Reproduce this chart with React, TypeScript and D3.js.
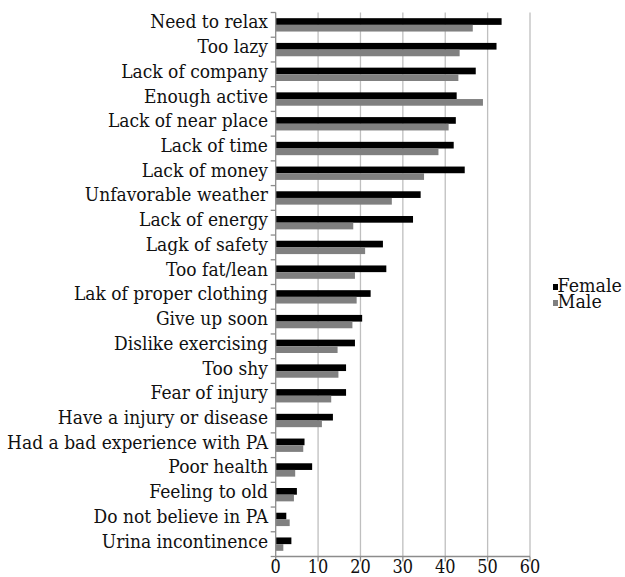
import React, { useEffect, useRef } from 'react';
import * as d3 from 'd3';

const categories = [
  'Need to relax',
  'Too lazy',
  'Lack of company',
  'Enough active',
  'Lack of near place',
  'Lack of time',
  'Lack of money',
  'Unfavorable weather',
  'Lack of energy',
  'Lagk of safety',
  'Too fat/lean',
  'Lak of proper clothing',
  'Give up soon',
  'Dislike exercising',
  'Too shy',
  'Fear of injury',
  'Have a injury or disease',
  'Had a bad experience with PA',
  'Poor health',
  'Feeling to old',
  'Do not believe in PA',
  'Urina incontinence',
];

const female = [53.3, 52.1, 47.2, 42.7, 42.5, 42.0, 44.6, 34.2, 32.4, 25.3, 26.1, 22.4, 20.4, 18.7, 16.6, 16.6, 13.5, 6.8, 8.6, 5.0, 2.5, 3.7];
const male = [46.5, 43.4, 43.1, 48.9, 40.8, 38.4, 35.0, 27.4, 18.3, 21.1, 18.7, 19.1, 18.1, 14.6, 14.8, 13.1, 10.9, 6.5, 4.6, 4.3, 3.3, 1.8];

const seriesNames = ['Female', 'Male'];
const seriesColors = ['#000000', '#808080'];
const xTicks = [0, 10, 20, 30, 40, 50, 60];

const App: React.FC = () => {
  const svgRef = useRef<SVGSVGElement>(null);

  useEffect(() => {
    if (!svgRef.current) return;
    const width = 625;
    const height = 577;
    const top = 12.5;
    const bottom = 556.5;
    const left = 275.7;
    const right = 530;
    // Times-like look: DejaVu Serif squeezed a little horizontally
    const font = 'DejaVu Serif';
    const squeeze = 0.9;

    const svg = d3.select(svgRef.current);
    svg.selectAll('*').remove();
    svg.attr('width', width).attr('height', height);

    const x = d3.scaleLinear().domain([0, 60]).range([left, right]);
    const y = d3.scaleBand<string>()
      .domain(categories)
      .range([top, bottom])
      .paddingInner(0.46)
      .paddingOuter(0.23);
    const sub = d3.scaleBand<string>()
      .domain(seriesNames)
      .range([0, y.bandwidth()]);
    const step = y.step();

    // gridlines
    svg.append('g')
      .selectAll('line')
      .data(xTicks.slice(1))
      .join('line')
      .attr('x1', (d) => x(d))
      .attr('x2', (d) => x(d))
      .attr('y1', top)
      .attr('y2', bottom)
      .attr('stroke', '#bfbfbf')
      .attr('stroke-width', 1.3);

    // bars
    const rows = categories.map((c, i) => ({ c, vals: [female[i], male[i]] }));
    const g = svg.append('g')
      .selectAll('g')
      .data(rows)
      .join('g')
      .attr('transform', (d) => `translate(0,${y(d.c)})`);
    g.selectAll('rect')
      .data((d) => d.vals.map((v, k) => ({ v, k })))
      .join('rect')
      .attr('x', x(0))
      .attr('y', (d) => sub(seriesNames[d.k])!)
      .attr('width', (d) => x(d.v) - x(0))
      .attr('height', sub.bandwidth())
      .attr('fill', (d) => seriesColors[d.k]);

    // left axis
    const axisColor = '#8c8c8c';
    svg.append('line')
      .attr('x1', left).attr('x2', left)
      .attr('y1', top).attr('y2', bottom)
      .attr('stroke', axisColor).attr('stroke-width', 1.3);
    const boundaries = d3.range(categories.length + 1).map((i) => top + i * step);
    svg.append('g')
      .selectAll('line')
      .data(boundaries)
      .join('line')
      .attr('x1', left - 5).attr('x2', left)
      .attr('y1', (d) => d).attr('y2', (d) => d)
      .attr('stroke', axisColor).attr('stroke-width', 1.3);

    svg.append('g')
      .selectAll('text')
      .data(categories)
      .join('text')
      .attr('transform', (d) => `translate(268,${y(d)! + y.bandwidth() / 2 + 3.5}) scale(${squeeze},1)`)
      .attr('text-anchor', 'end')
      .attr('font-family', font)
      .attr('font-size', 19)
      .attr('fill', '#111')
      .text((d) => d);

    // bottom axis
    svg.append('line')
      .attr('x1', left).attr('x2', right)
      .attr('y1', bottom).attr('y2', bottom)
      .attr('stroke', axisColor).attr('stroke-width', 1.3);
    svg.append('g')
      .selectAll('line')
      .data(xTicks)
      .join('line')
      .attr('x1', (d) => x(d)).attr('x2', (d) => x(d))
      .attr('y1', bottom).attr('y2', bottom + 5)
      .attr('stroke', axisColor).attr('stroke-width', 1.3);
    svg.append('g')
      .selectAll('text')
      .data(xTicks)
      .join('text')
      .attr('transform', (d) => `translate(${x(d)},573) scale(0.85,1)`)
      .attr('text-anchor', 'middle')
      .attr('font-family', font)
      .attr('font-size', 19)
      .attr('fill', '#111')
      .text((d) => d);

    // legend
    const legend = svg.append('g')
      .selectAll('g')
      .data(seriesNames)
      .join('g')
      .attr('transform', (d, i) => `translate(553,${292 + i * 16})`);
    legend.append('rect')
      .attr('x', 0).attr('y', -8)
      .attr('width', 5).attr('height', 6)
      .attr('fill', (d, i) => seriesColors[i]);
    legend.append('text')
      .attr('transform', `translate(4.5,0) scale(0.92,1)`)
      .attr('font-family', font)
      .attr('font-size', 19)
      .attr('fill', '#111')
      .text((d) => d);
  }, []);

  return (
    <div style={{ position: 'absolute', left: 0, top: 0 }}>
      <svg ref={svgRef} style={{ display: 'block' }} />
    </div>
  );
};

export default App;
